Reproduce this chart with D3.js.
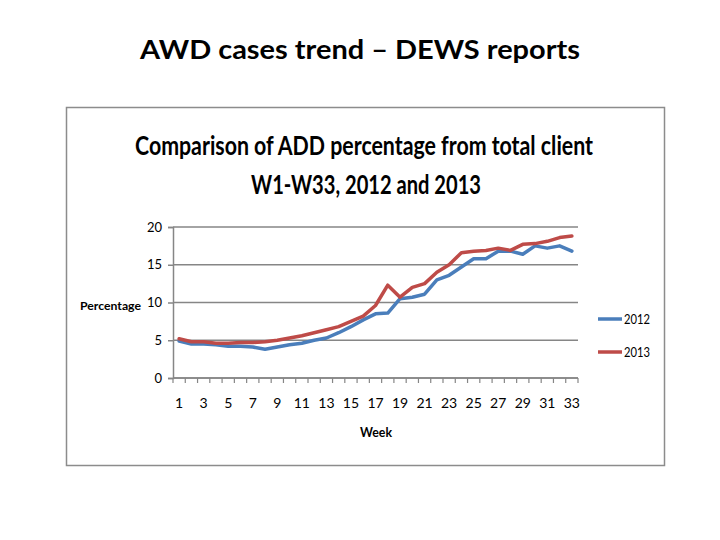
<!DOCTYPE html>
<html>
<head>
<meta charset="utf-8">
<script src="https://cdn.jsdelivr.net/npm/d3@7/dist/d3.min.js"></script>
<style>
body{margin:0;background:#fff;}
svg{display:block;font-family:Lato,"Open Sans",sans-serif;}
</style>
</head>
<body>
<svg id="chart" width="720" height="540"></svg>
<script>
// data
var weeks = d3.range(1, 34);
var tickWeeks = [1,3,5,7,9,11,13,15,17,19,21,23,25,27,29,31,33];
var yTicks = [0,5,10,15,20];
var series2012 = [4.9,4.5,4.5,4.4,4.2,4.2,4.1,3.8,4.1,4.4,4.6,5.0,5.3,6.0,6.8,7.7,8.5,8.6,10.5,10.7,11.1,13.0,13.6,14.7,15.8,15.8,16.8,16.8,16.4,17.5,17.2,17.5,16.8];
var series2013 = [5.2,4.8,4.8,4.6,4.6,4.7,4.7,4.8,5.0,5.3,5.6,6.0,6.4,6.8,7.5,8.2,9.6,12.3,10.7,12.0,12.5,14.0,15.0,16.6,16.8,16.9,17.2,16.9,17.7,17.8,18.1,18.6,18.8];
var seriesNames = ["2012","2013"];
var seriesColors = ["#4a7ebb","#be4b48"];

var svg = d3.select("#chart");

svg.append("text").attr("x", 360).attr("y", 59).attr("text-anchor", "middle")
	.attr("textLength", 440).attr("lengthAdjust", "spacingAndGlyphs")
	.style("font-size", "26px").style("font-weight", "bold").style("fill", "#000")
	.text("AWD cases trend \u2013 DEWS reports");

// chart frame
svg.append("rect").attr("x", 66.5).attr("y", 107.5).attr("width", 598).attr("height", 358)
	.attr("fill", "#fff").attr("stroke", "#8c8c8c").attr("stroke-width", 1.5);

svg.append("text").attr("x", 364).attr("y", 155).attr("text-anchor", "middle")
	.attr("textLength", 458).attr("lengthAdjust", "spacingAndGlyphs")
	.style("font-size", "27px").style("font-weight", "bold")
	.text("Comparison of ADD percentage from total client");
svg.append("text").attr("x", 366).attr("y", 194).attr("text-anchor", "middle")
	.attr("textLength", 230).attr("lengthAdjust", "spacingAndGlyphs")
	.style("font-size", "27px").style("font-weight", "bold")
	.text("W1-W33, 2012 and 2013");

var plot = {left:173, right:578, top:227, bottom:378};
var x = d3.scaleBand().domain(weeks).range([plot.left, plot.right]);
var y = d3.scaleLinear().domain([0, 20]).range([plot.bottom, plot.top]);
var cx = function(w){ return x(w) + x.bandwidth()/2; };

// grid
svg.append("g").selectAll("line").data(yTicks).enter().append("line")
	.attr("x1", plot.left).attr("x2", plot.right)
	.attr("y1", function(d){return y(d);}).attr("y2", function(d){return y(d);})
	.attr("stroke", "#868686").attr("stroke-width", 1.5);

// y axis
var yAxis = svg.append("g").attr("transform", "translate(" + plot.left + ",0)")
	.call(d3.axisLeft(y).tickValues(yTicks).tickSize(5).tickPadding(6));
yAxis.select(".domain").attr("stroke", "#868686").attr("stroke-width", 1.5);
yAxis.selectAll(".tick line").attr("stroke", "#868686").attr("stroke-width", 1.5);
yAxis.selectAll("text").style("font-size", "13px").style("fill", "#000")
	.style("font-family", "Lato,sans-serif");

// x axis: ticks on category boundaries
var xg = svg.append("g");
xg.append("line").attr("x1", plot.left).attr("x2", plot.right)
	.attr("y1", plot.bottom).attr("y2", plot.bottom)
	.attr("stroke", "#868686").attr("stroke-width", 1.5);
xg.selectAll("line.b").data(weeks.concat([34])).enter().append("line").attr("class", "b")
	.attr("x1", function(d){return d === 34 ? plot.right : x(d);})
	.attr("x2", function(d){return d === 34 ? plot.right : x(d);})
	.attr("y1", plot.bottom).attr("y2", plot.bottom + 5)
	.attr("stroke", "#868686").attr("stroke-width", 1.2);
xg.selectAll("text").data(tickWeeks).enter().append("text")
	.attr("x", function(d){return cx(d);}).attr("y", 408).attr("text-anchor", "middle")
	.style("font-size", "14px").text(function(d){return d;});

svg.append("text").attr("x", 376).attr("y", 437).attr("text-anchor", "middle")
	.style("font-size", "14px").style("font-weight", "bold").attr("textLength", 32)
	.attr("lengthAdjust", "spacingAndGlyphs").text("Week");
svg.append("text").attr("x", 80).attr("y", 310)
	.style("font-size", "12px").style("font-weight", "bold").attr("textLength", 61)
	.attr("lengthAdjust", "spacingAndGlyphs").text("Percentage");

// lines
var line = d3.line().x(function(d, i){return cx(weeks[i]);}).y(function(d){return y(d);});
[series2012, series2013].forEach(function(s, i){
	svg.append("path").datum(s).attr("d", line).attr("fill", "none")
		.attr("stroke", seriesColors[i]).attr("stroke-width", 3.5)
		.attr("stroke-linejoin", "round").attr("stroke-linecap", "round");
});

// legend
var leg = svg.append("g").selectAll("g").data(seriesNames).enter().append("g")
	.attr("transform", function(d, i){return "translate(598," + (319 + i*33) + ")";});
leg.append("line").attr("x1", 0).attr("x2", 24).attr("y1", 0).attr("y2", 0)
	.attr("stroke", function(d, i){return seriesColors[i];}).attr("stroke-width", 3.5);
leg.append("text").attr("x", 26).attr("y", 5).style("font-size", "13px")
	.attr("textLength", 26).attr("lengthAdjust", "spacingAndGlyphs")
	.text(function(d){return d;});
</script>
</body>
</html>
